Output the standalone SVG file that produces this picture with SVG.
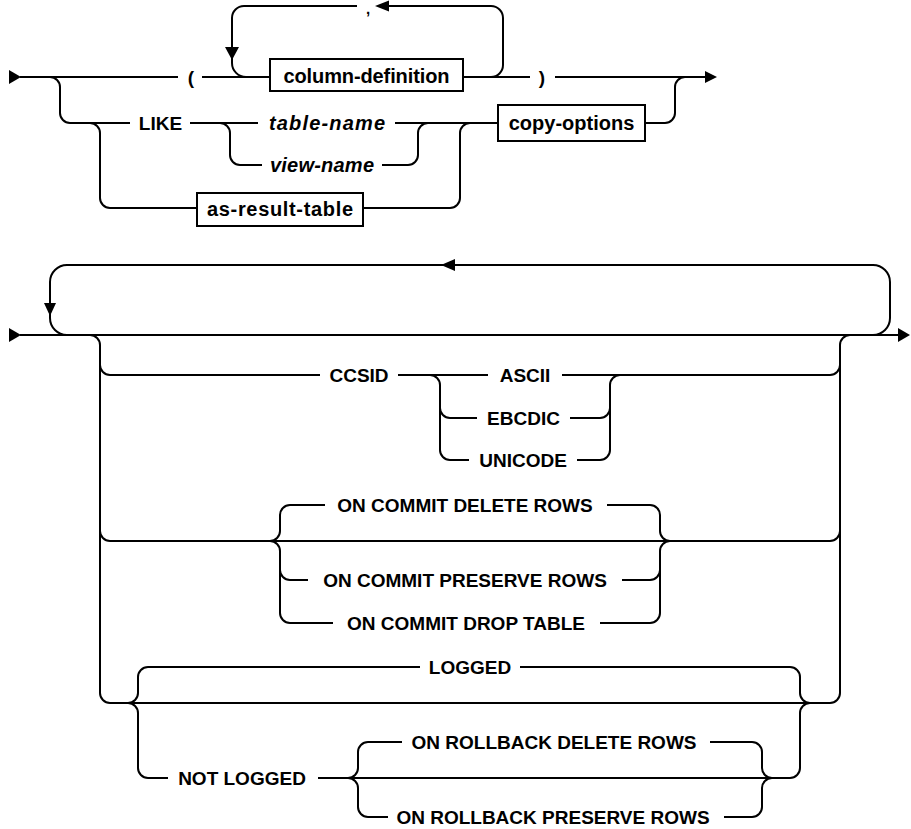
<svg xmlns="http://www.w3.org/2000/svg" width="911" height="829" viewBox="0 0 911 829">
<style>
.ln{fill:none;stroke:#000;stroke-width:2;}
.ar{fill:#000;stroke:none;}
.bx{fill:#fff;stroke:#000;stroke-width:2;}
text{font-family:"Liberation Sans",Arial,sans-serif;font-weight:bold;font-size:19px;fill:#000;text-anchor:middle;}
.it{font-style:italic;}
.lc{font-size:20px;}
</style>
<rect width="911" height="829" fill="#fff"/>
<g id="connectors">
  <!-- top diagram -->
  <path class="ln" d="M20,77 H178 M202,77 H270 M463,77 H530 M555,77 H705"/>
  <path class="ln" d="M246,77 A14,14 0 0 1 232,63 V18 A12,12 0 0 1 244,6 H357 M388,6 H491 A12,12 0 0 1 503,18 V65 A12,12 0 0 1 491,77"/>
  <path class="ln" d="M50,77 A10,10 0 0 1 60,87 V113 A10,10 0 0 0 70,123 H130 M190,123 H258 M395,123 H498"/>
  <path class="ln" d="M220,123 A10,10 0 0 1 230,133 V155 A10,10 0 0 0 240,165 H262 M382,165 H408 A10,10 0 0 0 418,155 V133 A10,10 0 0 1 428,123"/>
  <path class="ln" d="M90,123 A10,10 0 0 1 100,133 V198 A10,10 0 0 0 110,208 H197 M363,208 H450 A10,10 0 0 0 460,198 V133 A10,10 0 0 1 470,123"/>
  <path class="ln" d="M645,123 H665 A10,10 0 0 0 675,113 V87 A10,10 0 0 1 685,77"/>
  <polygon class="ar" points="9,70 21,77 9,84"/>
  <polygon class="ar" points="705,71 717,77 705,83"/>
  <polygon class="ar" points="375,6 389,0.5 389,11.5"/>
  <polygon class="ar" points="225,47 239,47 232,60"/>
  <!-- bottom diagram -->
  <path class="ln" d="M20,335 H898"/>
  <path class="ln" d="M67,335 A17,17 0 0 1 50,318 V282 A17,17 0 0 1 67,265 H873 A17,17 0 0 1 890,282 V318 A17,17 0 0 1 873,335"/>
  <path class="ln" d="M90,335 A10,10 0 0 1 100,345 V693 A10,10 0 0 0 110,703 H830 A10,10 0 0 0 840,693 V345 A10,10 0 0 1 850,335"/>
  <path class="ln" d="M100,365 A10,10 0 0 0 110,375 H320 M398,375 H488 M562,375 H830 A10,10 0 0 0 840,365"/>
  <path class="ln" d="M430,375 A10,10 0 0 1 440,385 V450 A10,10 0 0 0 450,460 H469 M440,408 A10,10 0 0 0 450,418 H477"/>
  <path class="ln" d="M577,460 H600 A10,10 0 0 0 610,450 V385 A10,10 0 0 1 620,375 M570,418 H600 A10,10 0 0 0 610,408"/>
  <path class="ln" d="M100,531 A10,10 0 0 0 110,541 H830 A10,10 0 0 0 840,531"/>
  <path class="ln" d="M270,541 A10,10 0 0 0 280,531 V515 A10,10 0 0 1 290,505 H325 M270,541 A10,10 0 0 1 280,551 V613 A10,10 0 0 0 290,623 H333 M280,570 A10,10 0 0 0 290,580 H308"/>
  <path class="ln" d="M607,505 H650 A10,10 0 0 1 660,515 V531 A10,10 0 0 0 670,541 M600,623 H650 A10,10 0 0 0 660,613 V551 A10,10 0 0 1 670,541 M622,580 H650 A10,10 0 0 0 660,570"/>
  <path class="ln" d="M128,703 A10,10 0 0 0 138,693 V677 A10,10 0 0 1 148,667 H420 M520,667 H790 A10,10 0 0 1 800,677 V693 A10,10 0 0 0 810,703"/>
  <path class="ln" d="M128,703 A10,10 0 0 1 138,713 V768 A10,10 0 0 0 148,778 H168 M318,778 H790 A10,10 0 0 0 800,768 V713 A10,10 0 0 1 810,703"/>
  <path class="ln" d="M348,778 A10,10 0 0 0 358,768 V752 A10,10 0 0 1 368,742 H402 M710,742 H752 A10,10 0 0 1 762,752 V768 A10,10 0 0 0 772,778"/>
  <path class="ln" d="M348,778 A10,10 0 0 1 358,788 V807 A10,10 0 0 0 368,817 H388 M724,817 H752 A10,10 0 0 0 762,807 V788 A10,10 0 0 1 772,778"/>
  <polygon class="ar" points="9,328 21,335 9,342"/>
  <polygon class="ar" points="898,328 910,335 898,342"/>
  <polygon class="ar" points="441,265 455,259 455,271"/>
  <polygon class="ar" points="44,303 56,303 50,316"/>
</g>
<g id="open-paren"><text x="191" y="84">(</text></g>
<g id="comma"><text x="368" y="14" style="font-size:15px">,</text></g>
<g id="column-definition"><rect class="bx" x="270" y="59" width="193" height="32"/><text class="lc" x="366.5" y="83" textLength="166" lengthAdjust="spacing">column-definition</text></g>
<g id="close-paren"><text x="542" y="84">)</text></g>
<g id="like"><text x="160.5" y="130">LIKE</text></g>
<g id="table-name"><text class="it lc" x="327" y="130" textLength="116" lengthAdjust="spacing">table-name</text></g>
<g id="view-name"><text class="it lc" x="322" y="172" textLength="104" lengthAdjust="spacing">view-name</text></g>
<g id="copy-options"><rect class="bx" x="498" y="105" width="147" height="36"/><text class="lc" x="571.5" y="130">copy-options</text></g>
<g id="as-result-table"><rect class="bx" x="197" y="193" width="166" height="33"/><text class="lc" x="280" y="216" textLength="146" lengthAdjust="spacing">as-result-table</text></g>
<g id="ccsid"><text x="359" y="382">CCSID</text></g>
<g id="ascii"><text x="525" y="382">ASCII</text></g>
<g id="ebcdic"><text x="523.5" y="425">EBCDIC</text></g>
<g id="unicode"><text x="523" y="467">UNICODE</text></g>
<g id="on-commit-delete-rows"><text x="465" y="512">ON COMMIT DELETE ROWS</text></g>
<g id="on-commit-preserve-rows"><text x="465" y="587">ON COMMIT PRESERVE ROWS</text></g>
<g id="on-commit-drop-table"><text x="466" y="630">ON COMMIT DROP TABLE</text></g>
<g id="logged"><text x="470" y="674">LOGGED</text></g>
<g id="not-logged"><text x="242" y="785">NOT LOGGED</text></g>
<g id="on-rollback-delete-rows"><text x="554" y="749">ON ROLLBACK DELETE ROWS</text></g>
<g id="on-rollback-preserve-rows"><text x="553" y="824">ON ROLLBACK PRESERVE ROWS</text></g>
</svg>
